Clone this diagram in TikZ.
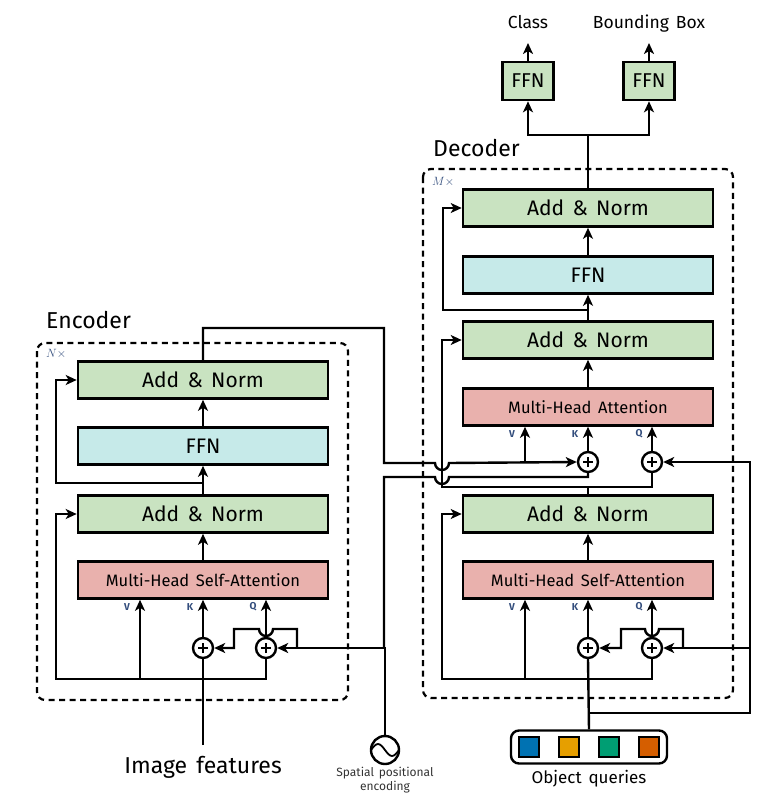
\documentclass[tikz,border=0pt]{standalone}
\usepackage{fontspec}
\setmainfont{Fira Sans}[WordSpace=1.5]
\usetikzlibrary{arrows.meta}

\definecolor{annormcol}{RGB}{201,227,193}
\definecolor{ffncol}{RGB}{198,234,233}
\definecolor{attncol}{RGB}{233,177,173}
\definecolor{qkvcol}{RGB}{52,78,125}
\definecolor{qblue}{RGB}{0,114,178}
\definecolor{qorange}{RGB}{230,159,0}
\definecolor{qgreen}{RGB}{0,158,115}
\definecolor{qred}{RGB}{213,94,0}

% hop of radius 7 over a vertical line, drawn right to left
\def\hopleft{arc[start angle=0,end angle=-180,radius=7pt]}

\begin{document}
\begin{tikzpicture}[x=1pt, y=-1pt, line width=2.4pt,
		arr/.style={-{Stealth[length=11pt,width=10pt,inset=3pt]}},
		block/.style={draw, line width=2.6pt, minimum width=250pt, minimum height=37pt, inner sep=0pt},
		addnorm/.style={block, fill=annormcol, font=\fontsize{21}{24}\selectfont},
		ffnbox/.style={block, fill=ffncol, font=\fontsize{21}{24}\selectfont},
		attnbox/.style={block, fill=attncol, font=\fontsize{16.5}{19}\selectfont},
		headffn/.style={block, fill=annormcol, minimum width=51pt, minimum height=38pt, font=\fontsize{20}{24}\selectfont},
		plus/.style={draw, line width=2.4pt, circle, fill=white, minimum size=20pt, inner sep=0pt,
			path picture={\draw[line width=1.6pt] ([xshift=-5pt]path picture bounding box.center) -- ([xshift=5pt]path picture bounding box.center)
				([yshift=-5pt]path picture bounding box.center) -- ([yshift=5pt]path picture bounding box.center);}},
		qkv/.style={text=qkvcol, font=\fontsize{10}{10}\selectfont\bfseries, inner sep=0pt},
		repeatbox/.style={line width=2.2pt, dash pattern=on 6pt off 4.5pt, rounded corners=8pt},
		title/.style={anchor=base west, inner sep=0pt, font=\fontsize{23}{26}\selectfont},
		outlabel/.style={anchor=south, inner ysep=13pt, text depth=0pt, font=\fontsize{17.5}{20}\selectfont},
		query/.style={draw, line width=1.6pt, minimum size=20pt, inner sep=0pt}]
	\useasboundingbox (0,0) rectangle (766,803);
	
	% encoder
	\draw[repeatbox] (37,343) rectangle (348,700);
	\node[title] (enctitle) at (45,328) {Encoder};
	\node[anchor=west, inner sep=0pt, text=qkvcol, font=\fontsize{12}{12}\selectfont] (encrep) at (45,354) {$N\times$};
	
	\node[addnorm] (encan2) at (203,380) {Add \& Norm};
	\node[ffnbox] (encffn) at (203,446) {FFN};
	\node[addnorm] (encan1) at (203,514) {Add \& Norm};
	\node[attnbox] (encsa) at (203,580) {Multi-Head Self-Attention};
	\node[plus] (encK) at (203,648) {};
	\node[plus] (encQ) at (266,648) {};
	\coordinate (encV) at (140,679);
	\node[qkv] at (127,607) {V};
	\node[qkv] at (190,607) {K};
	\node[qkv] at (253,607) {Q};
	
	\draw[arr] (encsa) -- (encan1);
	\draw[arr] (encan1) -- (encffn);
	\draw[arr] (encffn) -- (encan2);
	\draw[arr] (203,483) -- (56,483) |- (encan2.west);
	\draw[arr] (encQ.south) |- (56,679) |- (encan1.west);
	\draw[arr] (encV) -- (encV |- encsa.south);
	\draw[arr] (encK) -- (encK |- encsa.south);
	\draw[arr] (encQ) -- (encQ |- encsa.south);
	
	\node[title, anchor=base] (imgfeat) at (203,773) {Image features};
	\draw (203,745) -- (encK.south);
	
	% positional encoding
	\node[draw, circle, minimum size=28pt, inner sep=0pt] (posenc) at (385,750) {};
	\draw[line width=1.8pt] (371,750) sin (378,744) cos (385,750) sin (392,756) cos (399,750);
	\node[align=center, inner sep=0pt, text=black!80, font=\fontsize{12}{14.5}\selectfont] (poslabel) at (385,780) {Spatial positional\\encoding};
	\draw[arr] (posenc.north) |- (encQ.east);
	\draw[arr] (297,648) -- (297,629) -- (273,629) \hopleft -- (234,629) -- (234,648) -- (encK.east);
	
	% decoder
	\draw[repeatbox] (423,169) rectangle (733,698);
	\node[title] (dectitle) at (432,156) {Decoder};
	\node[anchor=west, inner sep=0pt, text=qkvcol, font=\fontsize{12}{12}\selectfont] (decrep) at (431,182) {$M\times$};
	
	\node[addnorm] (decan3) at (588,208) {Add \& Norm};
	\node[ffnbox] (decffn) at (588,275) {FFN};
	\node[addnorm] (decan2) at (588,340) {Add \& Norm};
	\node[attnbox] (decca) at (588,407) {Multi-Head Attention};
	\node[addnorm] (decan1) at (588,514) {Add \& Norm};
	\node[attnbox] (decsa) at (588,580) {Multi-Head Self-Attention};
	\node[plus] (decK2) at (588,462) {};
	\node[plus] (decQ2) at (652,462) {};
	\node[plus] (decK1) at (588,648) {};
	\node[plus] (decQ1) at (652,648) {};
	\coordinate (decV2) at (525,463);
	\coordinate (decV1) at (525,679);
	\node[qkv] at (512,607) {V};
	\node[qkv] at (575,607) {K};
	\node[qkv] at (639,607) {Q};
	\node[qkv] at (512,434) {V};
	\node[qkv] at (575,434) {K};
	\node[qkv] at (639,434) {Q};
	
	\draw[arr] (decsa) -- (decan1);
	\draw[arr] (decca) -- (decan2);
	\draw[arr] (decan2) -- (decffn);
	\draw[arr] (decffn) -- (decan3);
	\draw[arr] (588,310) -- (443,310) |- (decan3.west);
	\draw[arr] (decQ1.south) |- (442,679) |- (decan1.west);
	\draw[arr] (decV1) -- (decV1 |- decsa.south);
	\draw[arr] (decK1) -- (decK1 |- decsa.south);
	\draw[arr] (decQ1) -- (decQ1 |- decsa.south);
	\draw[arr] (decK2) -- (decK2 |- decca.south);
	\draw[arr] (decQ2) -- (decQ2 |- decca.south);
	\draw[arr] (decV2) -- (decV2 |- decca.south);
	
	% encoder memory and positions into cross attention
	\draw (decan1.north) -- (588,487) -- (652,487) -- (decQ2.south);
	\draw[arr] (588,487) -- (442,487) |- (decan2.west);
	\draw[arr] (encan2.north) -- (203,328) -- (384,328) -- (384,463) -- (435,463) arc[start angle=180,end angle=360,radius=7pt] -- (decK2.west);
	\draw (384,648) -- (384,477) -- (435,477) arc[start angle=180,end angle=360,radius=7pt] -- (588,477) -- (decK2.south);
	
	% object queries
	\node[draw, rounded corners=8pt, minimum width=156pt, minimum height=33pt] (queries) at (589,747) {};
	\foreach \c [count=\i] in {qblue,qorange,qgreen,qred}
		\node[query, fill=\c] (q\i) at (589+40*\i-100,747) {};
	\node[inner sep=0pt, font=\fontsize{17}{20}\selectfont] (qlabel) at (589,779) {Object queries};
	\draw (queries.north) -- (decK1.south);
	\draw[arr] (588,713) -| (750,462) -- (decQ2.east);
	\draw[arr] (750,648) -- (decQ1.east);
	\draw[arr] (683,648) -- (683,629) -- (659,629) \hopleft -- (621,629) -- (621,648) -- (decK1.east);
	
	% prediction heads
	\node[headffn] (clsffn) at (528,81) {FFN};
	\node[headffn] (boxffn) at (649,81) {FFN};
	\node[outlabel] (clslabel) at (528,43) {Class};
	\node[outlabel] (boxlabel) at (649,43) {Bounding Box};
	\draw (decan3.north) -- (588,135);
	\draw[arr] (588,135) -| (clsffn.south);
	\draw[arr] (588,135) -| (boxffn.south);
	\draw[arr] (clsffn) -- (clslabel.south);
	\draw[arr] (boxffn) -- (boxlabel.south);
\end{tikzpicture}
\end{document}
